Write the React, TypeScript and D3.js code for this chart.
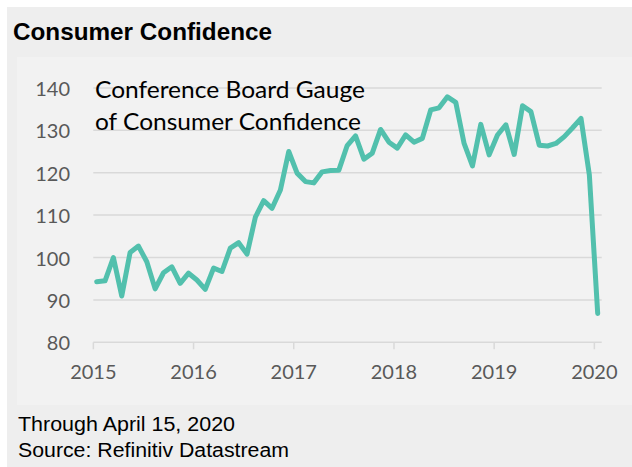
import React from "react";
import * as d3 from "d3";

// Monthly Conference Board Consumer Confidence index, Apr 2015 .. Apr 2020
const startLabel = "2015-04";
const values: number[] = [
  94.3, 94.5, 100.0, 90.9, 101.2, 102.7, 99.0, 92.6, 96.4, 97.8, 93.9, 96.3,
  94.7, 92.5, 97.5, 96.7, 102.2, 103.5, 100.8, 109.5, 113.4, 111.6, 115.9, 125.0,
  119.9, 117.9, 117.6, 120.2, 120.5, 120.6, 126.4, 128.7, 123.2, 124.6, 130.2, 127.2,
  125.8, 128.9, 127.2, 128.1, 134.8, 135.3, 137.9, 136.6, 126.9, 121.6, 131.4, 124.2,
  128.9, 131.3, 124.3, 135.8, 134.4, 126.5, 126.3, 126.9, 128.5, 130.6, 132.8, 119.5,
  86.8,
];
const yearLabels: string[] = ["2015", "2016", "2017", "2018", "2019", "2020"];
const yTicks: number[] = [80, 90, 100, 110, 120, 130, 140];
const title = "Consumer Confidence";
const annotation: string[] = ["Conference Board Gauge", "of Consumer Confidence"];
const footnotes: string[] = ["Through April 15, 2020", "Source: Refinitiv Datastream"];

export default function App() {
  const W = 632;
  const H = 467;
  const x = d3.scaleLinear().domain([0, values.length - 1]).range([96.7, 597.7]);
  const y = d3.scaleLinear().domain([80, 140]).range([342.3, 87.9]);
  const gridX0 = 93.3;
  const gridX1 = 601.7;
  const line = d3
    .line<number>()
    .x((_, i) => x(i))
    .y((d) => y(d));
  const yearPos = yearLabels.map((_, k) => x(12 * k - 0.4));
  const tickFont = "Lato, 'Open Sans', sans-serif";
  const annoLen = [270, 266];
  const footLen = [217, 271];

  return (
    <svg
      width={W}
      height={H}
      style={{ position: "absolute", left: 0, top: 0, background: "#ffffff" }}
      data-start={startLabel}
    >
      <rect x={7} y={7} width={W - 7} height={H - 7} fill="#eeeeee" />
      <rect x={17} y={57} width={W - 17} height={405 - 57} fill="#f2f2f2" />
      <text
        x={13}
        y={40}
        fontFamily="'Liberation Sans', Arial, sans-serif"
        fontWeight="bold"
        fontSize={24}
        textLength={259}
        lengthAdjust="spacingAndGlyphs"
        fill="#000"
      >
        {title}
      </text>
      {yTicks.map((t) => (
        <g key={t}>
          <line
            x1={gridX0}
            x2={gridX1}
            y1={y(t)}
            y2={y(t)}
            stroke="#d9d9d9"
            strokeWidth={1.5}
          />
          <text
            x={70}
            y={y(t)}
            textAnchor="end"
            dominantBaseline="central"
            fontFamily={tickFont}
            fontSize={20}
            fill="#595959"
          >
            {t}
          </text>
        </g>
      ))}
      {yearLabels.map((lab, k) => (
        <g key={lab}>
          <line
            x1={yearPos[k]}
            x2={yearPos[k]}
            y1={y(80)}
            y2={y(80) + 7}
            stroke="#d9d9d9"
            strokeWidth={1.5}
          />
          <text
            x={yearPos[k]}
            y={379}
            textAnchor="middle"
            fontFamily={tickFont}
            fontSize={20}
            fill="#595959"
          >
            {lab}
          </text>
        </g>
      ))}
      <path
        d={line(values) || ""}
        fill="none"
        stroke="#52c0ad"
        strokeWidth={5}
        strokeLinejoin="round"
        strokeLinecap="round"
      />
      {annotation.map((s, i) => (
        <text
          key={s}
          x={95}
          y={98 + i * 32}
          fontFamily={tickFont}
          fontSize={24}
          textLength={annoLen[i]}
          lengthAdjust="spacingAndGlyphs"
          fill="#000"
        >
          {s}
        </text>
      ))}
      {footnotes.map((s, i) => (
        <text
          key={s}
          x={18}
          y={431 + i * 26}
          fontFamily="'Liberation Sans', Arial, sans-serif"
          fontSize={20}
          textLength={footLen[i]}
          lengthAdjust="spacingAndGlyphs"
          fill="#000"
        >
          {s}
        </text>
      ))}
    </svg>
  );
}
